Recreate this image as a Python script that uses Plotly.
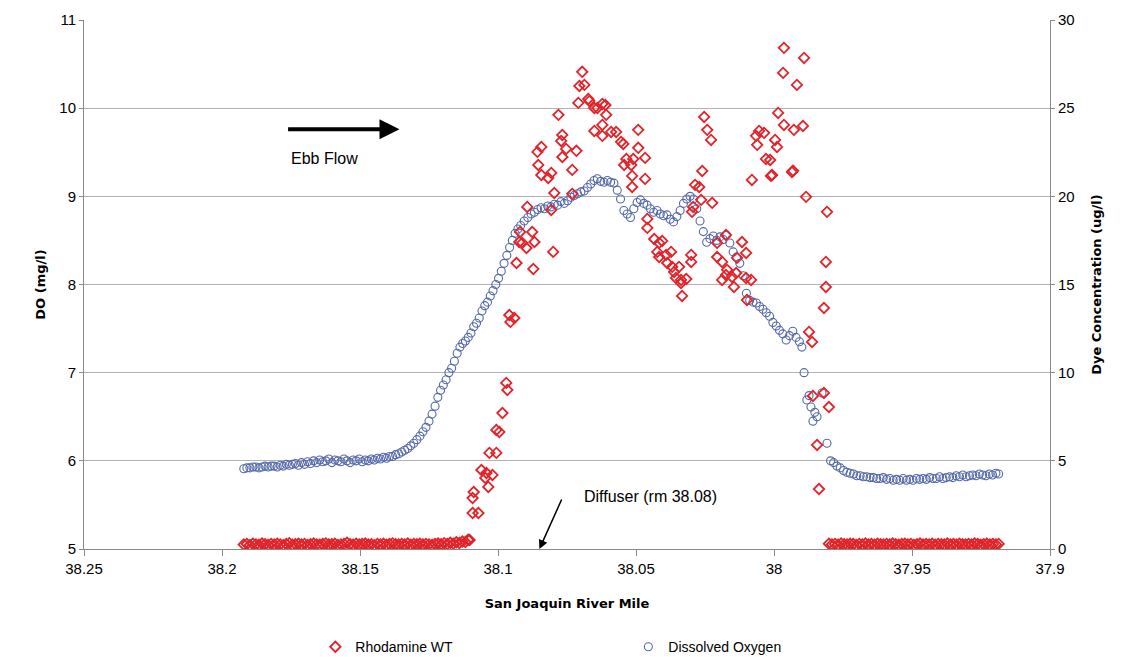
import plotly.graph_objects as go

# ---------------- data ----------------
x_tick_vals = [38.25, 38.2, 38.15, 38.1, 38.05, 38.0, 37.95, 37.9]
x_tick_text = ["38.25", "38.2", "38.15", "38.1", "38.05", "38", "37.95", "37.9"]
do_tick_vals = [5, 6, 7, 8, 9, 10, 11]
dye_tick_vals = [0, 5, 10, 15, 20, 25, 30]

# Rhodamine WT baseline before the plume (river mile, dye ug/l)
dye_base_left_x = [38.1921, 38.1910, 38.1899, 38.1888, 38.1877, 38.1866, 38.1855, 38.1844, 38.1833, 38.1822,
                   38.1811, 38.1800, 38.1789, 38.1778, 38.1767, 38.1756, 38.1745, 38.1734, 38.1723, 38.1712,
                   38.1701, 38.1690, 38.1679, 38.1668, 38.1657, 38.1646, 38.1635, 38.1624, 38.1613, 38.1602,
                   38.1591, 38.1580, 38.1569, 38.1558, 38.1547, 38.1536, 38.1525, 38.1514, 38.1503, 38.1492,
                   38.1481, 38.1470, 38.1459, 38.1448, 38.1437, 38.1426, 38.1415, 38.1404, 38.1393, 38.1382,
                   38.1371, 38.1360, 38.1349, 38.1338, 38.1327, 38.1316, 38.1305, 38.1294, 38.1283, 38.1272,
                   38.1261, 38.1250, 38.1239, 38.1228, 38.1217, 38.1206, 38.1195, 38.1184, 38.1173, 38.1162,
                   38.1151, 38.1140, 38.1129, 38.1118, 38.1108]
dye_base_left_y = [0.25, 0.28, 0.22, 0.30, 0.26, 0.24, 0.31, 0.27, 0.23, 0.29,
                   0.25, 0.30, 0.26, 0.22, 0.28, 0.33, 0.24, 0.27, 0.30, 0.25,
                   0.29, 0.23, 0.27, 0.31, 0.26, 0.24, 0.28, 0.32, 0.25, 0.27,
                   0.30, 0.23, 0.26, 0.29, 0.35, 0.27, 0.24, 0.30, 0.26, 0.28,
                   0.31, 0.25, 0.27, 0.22, 0.29, 0.26, 0.30, 0.24, 0.28, 0.32,
                   0.27, 0.25, 0.29, 0.26, 0.31, 0.24, 0.28, 0.27, 0.30, 0.25,
                   0.29, 0.26, 0.23, 0.28, 0.31, 0.27, 0.33, 0.29, 0.35, 0.30,
                   0.38, 0.34, 0.42, 0.40, 0.52]

# Rhodamine WT inside the plume (river mile, dye ug/l)
dye_plume = [
    (38.1103, 0.51), (38.1092, 2.04), (38.1071, 2.04), (38.1092, 2.89), (38.1088, 3.23),
    (38.1035, 3.52), (38.1060, 4.48), (38.1042, 4.31), (38.1020, 4.20), (38.1046, 4.03),
    (38.1031, 5.45), (38.1006, 5.45), (38.1006, 6.75), (38.0995, 6.64), (38.0984, 7.71),
    (38.0970, 9.42), (38.0966, 9.02), (38.0959, 13.27), (38.0941, 13.10), (38.0955, 12.88),
    (38.0933, 16.22), (38.0872, 15.88), (38.0923, 17.41), (38.0897, 17.07), (38.0868, 17.41),
    (38.0800, 16.85), (38.0920, 17.98), (38.0876, 17.98), (38.0894, 19.40), (38.0807, 19.23),
    (38.0854, 21.78), (38.0843, 21.21), (38.0807, 21.33), (38.0818, 21.04), (38.0796, 20.19),
    (38.0731, 21.50), (38.0731, 20.14), (38.0767, 22.23), (38.0857, 22.52), (38.0843, 22.80),
    (38.0695, 27.06), (38.0705, 26.26), (38.0687, 26.32), (38.0709, 25.30), (38.0673, 25.52),
    (38.0669, 25.41), (38.0651, 25.01), (38.0640, 25.01), (38.0622, 25.24), (38.0611, 25.18),
    (38.0781, 24.62), (38.0608, 24.62), (38.0767, 23.48), (38.0771, 23.14), (38.0753, 22.69),
    (38.0716, 22.58), (38.0622, 24.05), (38.0651, 23.71), (38.0622, 23.43), (38.0590, 23.65),
    (38.0572, 23.65), (38.0554, 23.09), (38.0546, 22.97), (38.0492, 23.77), (38.0535, 22.12),
    (38.0510, 22.12), (38.0543, 21.78), (38.0517, 21.78), (38.0492, 22.75), (38.0467, 22.18),
    (38.0514, 21.16), (38.0467, 20.99), (38.0514, 20.53), (38.0912, 17.36),
    (38.0253, 24.50), (38.0242, 23.77), (38.0228, 23.20), (38.0260, 21.44), (38.0286, 20.65),
    (38.0271, 20.53), (38.0264, 19.80), (38.0224, 19.63), (38.0293, 19.40), (38.0297, 19.12),
    (38.0459, 18.72), (38.0459, 18.21), (38.0434, 17.58), (38.0416, 17.36), (38.0405, 17.47),
    (38.0423, 16.85), (38.0391, 16.68), (38.0416, 16.56), (38.0373, 16.85), (38.0387, 16.22),
    (38.0369, 16.00), (38.0362, 15.71), (38.0344, 16.00), (38.0355, 15.37), (38.0337, 15.26),
    (38.0318, 15.31), (38.0337, 15.09), (38.0333, 14.35), (38.0300, 16.68), (38.0300, 16.28),
    (38.0206, 17.36), (38.0174, 17.81), (38.0116, 17.41), (38.0101, 16.79), (38.0134, 16.51),
    (38.0206, 16.56), (38.0188, 16.28), (38.0170, 15.83), (38.0174, 15.54), (38.0152, 15.43),
    (38.0137, 15.65), (38.0101, 15.37), (38.0083, 15.26), (38.0188, 15.26), (38.0145, 14.86),
    (38.0098, 14.12), (38.0080, 20.93), (38.0061, 22.92), (38.0065, 23.43), (38.0054, 23.71),
    (38.0036, 23.60), (38.0029, 22.12), (38.0014, 22.06), (38.0007, 21.21), (37.9996, 23.20),
    (37.9989, 22.80), (37.9985, 24.73), (37.9964, 24.05), (37.9928, 23.77), (37.9895, 23.99),
    (37.9935, 21.38), (37.9931, 21.45), (38.0011, 21.16),
    (37.9964, 28.42), (37.9891, 27.85), (37.9967, 27.00), (37.9917, 26.32),
    (37.9884, 19.97), (37.9808, 19.12), (37.9812, 16.28), (37.9812, 14.86), (37.9819, 13.67),
    (37.9873, 12.31), (37.9862, 11.74), (37.9859, 8.68), (37.9819, 8.85), (37.9801, 8.05),
    (37.9844, 5.90), (37.9837, 3.40),
]

# Rhodamine WT baseline after the plume
dye_base_right_x = [37.9801, 37.9790, 37.9779, 37.9768, 37.9757, 37.9746, 37.9735, 37.9724, 37.9713, 37.9702,
                    37.9691, 37.9680, 37.9669, 37.9658, 37.9647, 37.9636, 37.9625, 37.9614, 37.9603, 37.9592,
                    37.9581, 37.9570, 37.9559, 37.9548, 37.9537, 37.9526, 37.9515, 37.9504, 37.9493, 37.9482,
                    37.9471, 37.9460, 37.9449, 37.9438, 37.9427, 37.9416, 37.9405, 37.9394, 37.9383, 37.9372,
                    37.9361, 37.9350, 37.9339, 37.9328, 37.9317, 37.9306, 37.9295, 37.9284, 37.9273, 37.9262,
                    37.9251, 37.9240, 37.9229, 37.9218, 37.9207, 37.9196, 37.9186]
dye_base_right_y = [0.30, 0.26, 0.29, 0.24, 0.31, 0.27, 0.25, 0.30, 0.28, 0.23,
                    0.29, 0.26, 0.31, 0.25, 0.28, 0.24, 0.30, 0.27, 0.26, 0.29,
                    0.25, 0.31, 0.27, 0.24, 0.28, 0.30, 0.26, 0.29, 0.23, 0.27,
                    0.31, 0.25, 0.28, 0.26, 0.30, 0.24, 0.29, 0.27, 0.25, 0.31,
                    0.26, 0.28, 0.24, 0.30, 0.27, 0.25, 0.29, 0.26, 0.31, 0.28,
                    0.24, 0.27, 0.30, 0.25, 0.28, 0.26, 0.29]

# Dissolved oxygen (river mile, DO mg/l)
do_points = [
    (38.1921, 5.91), (38.1910, 5.92), (38.1899, 5.92), (38.1888, 5.93), (38.1877, 5.93),
    (38.1866, 5.92), (38.1855, 5.93), (38.1844, 5.94), (38.1833, 5.93), (38.1822, 5.94),
    (38.1811, 5.94), (38.1800, 5.93), (38.1789, 5.95), (38.1778, 5.94), (38.1767, 5.96),
    (38.1756, 5.95), (38.1745, 5.96), (38.1734, 5.97), (38.1723, 5.95), (38.1712, 5.98),
    (38.1701, 5.96), (38.1690, 5.99), (38.1679, 5.97), (38.1668, 6.00), (38.1657, 5.98),
    (38.1646, 6.01), (38.1635, 5.99), (38.1624, 6.00), (38.1613, 6.02), (38.1602, 5.98),
    (38.1591, 6.01), (38.1580, 6.00), (38.1569, 5.99), (38.1558, 6.02), (38.1547, 6.00),
    (38.1536, 5.98), (38.1525, 6.01), (38.1514, 6.00), (38.1503, 6.02), (38.1492, 5.99),
    (38.1481, 6.01), (38.1470, 6.00), (38.1459, 6.02), (38.1448, 6.01), (38.1437, 6.03),
    (38.1426, 6.02), (38.1415, 6.04), (38.1404, 6.03), (38.1393, 6.05), (38.1382, 6.05),
    (38.1371, 6.07), (38.1360, 6.08), (38.1349, 6.10), (38.1338, 6.12), (38.1327, 6.14),
    (38.1316, 6.17), (38.1305, 6.20), (38.1294, 6.24), (38.1283, 6.28), (38.1272, 6.33),
    (38.1261, 6.38), (38.1250, 6.45), (38.1239, 6.53), (38.1228, 6.62), (38.1218, 6.72),
    (38.1208, 6.80), (38.1198, 6.86), (38.1188, 6.92), (38.1178, 7.00), (38.1168, 7.05),
    (38.1158, 7.13), (38.1148, 7.22), (38.1138, 7.29), (38.1128, 7.33), (38.1118, 7.36),
    (38.1108, 7.40), (38.1098, 7.45), (38.1088, 7.52), (38.1078, 7.56), (38.1068, 7.62),
    (38.1058, 7.70), (38.1048, 7.76), (38.1038, 7.80), (38.1028, 7.87), (38.1018, 7.93),
    (38.1008, 8.00), (38.0998, 8.07), (38.0988, 8.15), (38.0978, 8.24), (38.0968, 8.33),
    (38.0958, 8.42), (38.0948, 8.50), (38.0938, 8.58), (38.0928, 8.63), (38.0918, 8.67),
    (38.0905, 8.72), (38.0892, 8.76), (38.0880, 8.80), (38.0868, 8.82), (38.0856, 8.85),
    (38.0844, 8.87), (38.0832, 8.86), (38.0820, 8.89), (38.0808, 8.88), (38.0796, 8.91),
    (38.0784, 8.90), (38.0772, 8.94), (38.0760, 8.92), (38.0748, 8.95), (38.0736, 8.99),
    (38.0724, 9.01), (38.0712, 9.03), (38.0700, 9.05), (38.0688, 9.06), (38.0676, 9.10),
    (38.0664, 9.14), (38.0652, 9.18), (38.0640, 9.20), (38.0628, 9.17), (38.0616, 9.16),
    (38.0604, 9.18), (38.0592, 9.16), (38.0580, 9.15), (38.0568, 9.07), (38.0556, 8.97),
    (38.0544, 8.84), (38.0532, 8.80), (38.0520, 8.76), (38.0508, 8.86), (38.0496, 8.93),
    (38.0484, 8.96), (38.0472, 8.92), (38.0460, 8.90), (38.0448, 8.86), (38.0436, 8.82),
    (38.0424, 8.84), (38.0412, 8.80), (38.0400, 8.78), (38.0388, 8.79), (38.0376, 8.74),
    (38.0364, 8.71), (38.0352, 8.77), (38.0340, 8.84), (38.0328, 8.92), (38.0316, 8.97),
    (38.0304, 9.00), (38.0292, 8.97), (38.0280, 8.86), (38.0268, 8.72), (38.0256, 8.60),
    (38.0244, 8.48), (38.0232, 8.52), (38.0220, 8.55), (38.0208, 8.50), (38.0196, 8.54),
    (38.0184, 8.51), (38.0172, 8.56), (38.0160, 8.47), (38.0148, 8.37), (38.0136, 8.31),
    (38.0124, 8.24), (38.0112, 8.10), (38.0100, 7.90), (38.0088, 7.82), (38.0076, 7.80),
    (38.0064, 7.79), (38.0052, 7.75), (38.0040, 7.72), (38.0028, 7.68), (38.0016, 7.64),
    (38.0004, 7.57), (37.9992, 7.53), (37.9980, 7.48), (37.9968, 7.44), (37.9956, 7.37),
    (37.9944, 7.42), (37.9932, 7.47), (37.9920, 7.40), (37.9908, 7.35), (37.9899, 7.29),
    (37.9891, 7.00), (37.9881, 6.69), (37.9873, 6.74), (37.9866, 6.61), (37.9859, 6.45),
    (37.9852, 6.55), (37.9844, 6.50), (37.9826, 6.77), (37.9808, 6.20), (37.9795, 6.00),
    (37.9784, 5.98), (37.9772, 5.94), (37.9760, 5.92), (37.9748, 5.89), (37.9736, 5.87),
    (37.9724, 5.86), (37.9712, 5.85), (37.9700, 5.83), (37.9688, 5.83), (37.9676, 5.82),
    (37.9664, 5.82), (37.9652, 5.81), (37.9640, 5.81), (37.9628, 5.80), (37.9616, 5.80),
    (37.9604, 5.81), (37.9592, 5.79), (37.9580, 5.80), (37.9568, 5.78), (37.9556, 5.79),
    (37.9544, 5.78), (37.9532, 5.80), (37.9520, 5.78), (37.9508, 5.79), (37.9496, 5.78),
    (37.9484, 5.80), (37.9472, 5.79), (37.9460, 5.80), (37.9448, 5.79), (37.9436, 5.81),
    (37.9424, 5.80), (37.9412, 5.80), (37.9400, 5.82), (37.9388, 5.80), (37.9376, 5.81),
    (37.9364, 5.82), (37.9352, 5.81), (37.9340, 5.83), (37.9328, 5.82), (37.9316, 5.84),
    (37.9304, 5.82), (37.9292, 5.83), (37.9280, 5.84), (37.9268, 5.83), (37.9256, 5.85),
    (37.9244, 5.84), (37.9232, 5.83), (37.9220, 5.85), (37.9208, 5.84), (37.9196, 5.86),
    (37.9186, 5.85),
]

# ---------------- figure ----------------
dye_x = dye_base_left_x + [p[0] for p in dye_plume] + dye_base_right_x
dye_y = dye_base_left_y + [p[1] for p in dye_plume] + dye_base_right_y
do_x = [p[0] for p in do_points]
do_y = [p[1] for p in do_points]

TICK_FONT = dict(family="Liberation Sans, Arial, sans-serif", size=15, color="#000000")
TITLE_FONT = dict(family="DejaVu Sans, Verdana, sans-serif", size=13, color="#000000")

fig = go.Figure()
fig.add_trace(go.Scatter(
    x=dye_x, y=dye_y, mode="markers", name="Rhodamine WT", yaxis="y2",
    marker=dict(symbol="diamond-open", size=8, color="#e2232a", line=dict(width=1.8, color="#e2232a")),
))
fig.add_trace(go.Scatter(
    x=do_x, y=do_y, mode="markers", name="Dissolved Oxygen", yaxis="y",
    marker=dict(symbol="circle-open", size=8, color="#5468aa", line=dict(width=1.1, color="#5468aa")),
))

fig.update_layout(
    width=1138, height=657,
    margin=dict(l=84, r=88, t=20, b=108, autoexpand=False),
    paper_bgcolor="white", plot_bgcolor="white",
    showlegend=True,
    legend=dict(orientation="h", x=0.2395, xanchor="left", yref="container", y=0.015, yanchor="middle",
                font=dict(family="Liberation Sans, Arial, sans-serif", size=14, color="#000000"),
                entrywidth=268, entrywidthmode="pixels", itemsizing="trace"),
    xaxis=dict(
        range=[38.25, 37.9], tickmode="array", tickvals=x_tick_vals, ticktext=x_tick_text,
        showgrid=False, zeroline=False, showline=True, linecolor="#8a8a8a", linewidth=1,
        ticks="outside", ticklen=6, tickcolor="#8a8a8a", tickfont=TICK_FONT,
        title=dict(text="<b>San Joaquin River Mile</b>", font=TITLE_FONT, standoff=22),
    ),
    yaxis=dict(
        range=[5, 11], tickmode="array", tickvals=do_tick_vals,
        showgrid=True, gridcolor="#b3b3b3", gridwidth=1, zeroline=False,
        showline=True, linecolor="#8a8a8a", linewidth=1,
        ticks="outside", ticklen=4, tickcolor="#8a8a8a", tickfont=TICK_FONT,
        title=dict(text="<b>DO (mg/l)</b>", font=TITLE_FONT, standoff=10),
    ),
    yaxis2=dict(
        range=[0, 30], tickmode="array", tickvals=dye_tick_vals, overlaying="y", side="right",
        showgrid=False, zeroline=False, showline=True, linecolor="#8a8a8a", linewidth=1,
        ticks="outside", ticklen=4, tickcolor="#8a8a8a", tickfont=TICK_FONT,
        title=dict(text="<b>Dye Concentration (ug/l)</b>", font=TITLE_FONT, standoff=18),
    ),
)

# Ebb flow arrow
fig.add_annotation(x=38.1357, y=9.76, ax=38.1766, ay=9.76, xref="x", yref="y", axref="x", ayref="y",
                   showarrow=True, arrowhead=2, arrowsize=1, arrowwidth=4, arrowcolor="#000000", text="")
fig.add_annotation(x=38.1628, y=9.43, xref="x", yref="y", text="Ebb Flow", showarrow=False,
                   font=dict(family="Liberation Sans, Arial, sans-serif", size=16, color="#000000"))
# Diffuser arrow
fig.add_annotation(x=38.0850, y=5.0, ax=38.0767, ay=5.578, xref="x", yref="y", axref="x", ayref="y",
                   showarrow=True, arrowhead=2, arrowsize=1.2, arrowwidth=1.5, arrowcolor="#000000", text="")
fig.add_annotation(x=38.0695, y=5.60, xref="x", yref="y", xanchor="left", text="Diffuser (rm 38.08)",
                   showarrow=False,
                   font=dict(family="Liberation Sans, Arial, sans-serif", size=16, color="#000000"))

fig.write_html("out.html")
